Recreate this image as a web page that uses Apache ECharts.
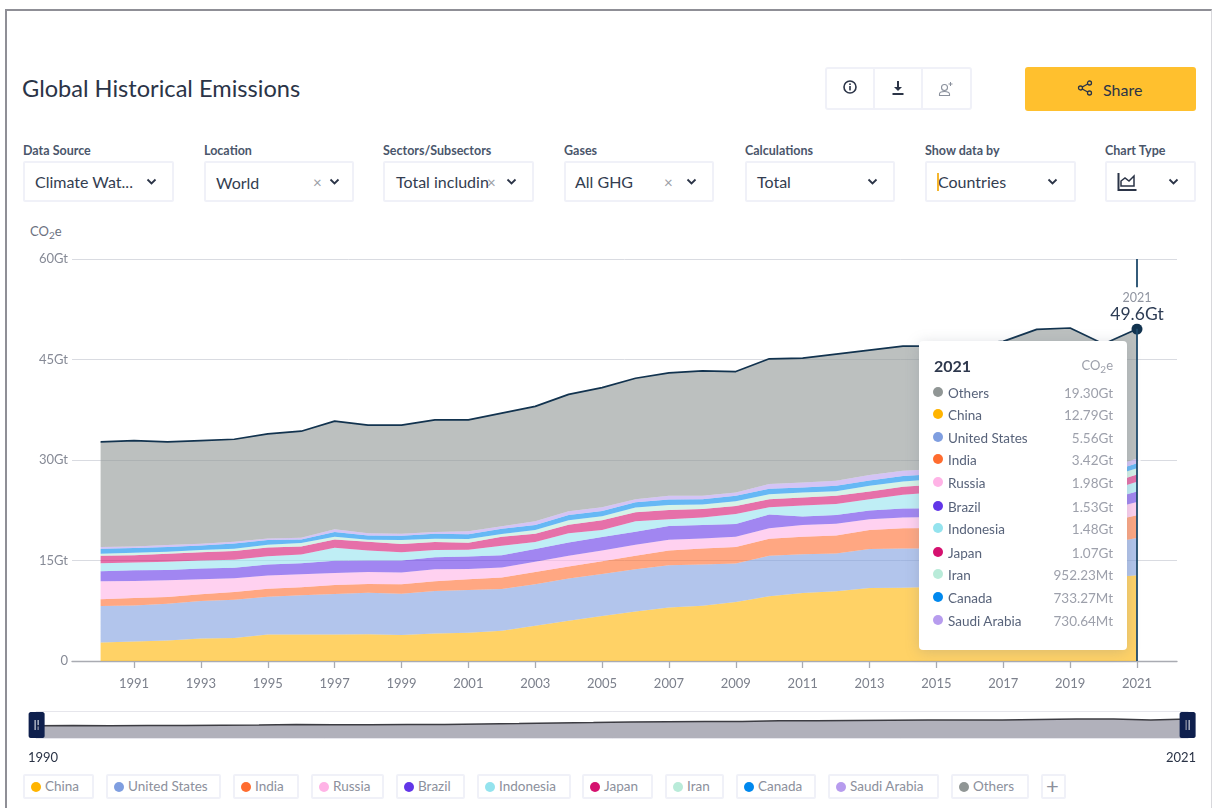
<!DOCTYPE html>
<html><head><meta charset="utf-8">
<script src="https://cdn.jsdelivr.net/npm/echarts@6/dist/echarts.min.js"></script>
<style>
html,body{margin:0;padding:0;width:1212px;height:808px;overflow:hidden;background:#fff;font-family:Lato,"Open Sans",sans-serif;color:#2e384d}
.abs{position:absolute;white-space:nowrap}
#frame{position:absolute;left:5px;top:9px;width:1204px;height:900px;border:2px solid #8f8f96;border-right:1px solid #d8d8dc}
#main{position:absolute;left:0;top:0;width:1212px;height:808px}
.lbl{font-size:12.5px;font-weight:700;color:#4a566b;top:143px}
.box{position:absolute;top:161px;height:37px;border:2px solid #f0f1f8;border-radius:2px;background:#fff}
.val{font-size:16px;color:#333d50;top:172px}
.x{font-size:15px;color:#9a9da6;top:173px}
.chip{position:absolute;top:774px;height:21px;border:2px solid #f0f1f8;border-radius:2px;font-size:13.5px;color:#8c909c;line-height:21px}
.chip i{position:absolute;left:6px;top:5.5px;width:10px;height:10px;border-radius:50%}
.chip span{position:absolute;left:20px;top:0;white-space:nowrap}
.tt{position:relative;width:208px;height:309px;font-family:Lato,sans-serif}
.tt .r{position:absolute;left:14px;right:14px;height:20px;line-height:20px;font-size:13.5px}
.tt .r i{position:absolute;left:0;top:4px;width:10px;height:10px;border-radius:50%}
.tt .r b{position:absolute;left:15px;font-weight:400;color:#58637a}
.tt .r em{position:absolute;right:0;font-style:normal;color:#9da0ab}
</style></head><body>
<div id="frame"></div>
<div class="abs" style="left:22px;top:74px;font-size:23.6px;color:#2b3447">Global Historical Emissions</div>

<div class="abs" style="left:825px;top:67px;width:143px;height:39px;border:2px solid #f0f1f8;border-radius:3px"></div>
<div class="abs" style="left:873px;top:67px;width:2px;height:43px;background:#f0f1f8"></div>
<div class="abs" style="left:921px;top:67px;width:2px;height:43px;background:#f0f1f8"></div>
<svg class="abs" style="left:842px;top:79px" width="16" height="16" viewBox="0 0 16 16"><circle cx="8" cy="8" r="6" fill="none" stroke="#2b3447" stroke-width="1.6"/><rect x="7.2" y="7" width="1.6" height="4.4" fill="#2b3447"/><rect x="7.2" y="4.4" width="1.6" height="1.6" fill="#2b3447"/></svg>
<svg class="abs" style="left:890px;top:80px" width="16" height="16" viewBox="0 0 16 16"><path d="M7 1h2v6h3L8 11 4 7h3z" fill="#2b3447"/><rect x="2.5" y="13" width="11" height="2" fill="#2b3447"/></svg>
<svg class="abs" style="left:938px;top:81px" width="16" height="16" viewBox="0 0 16 16"><circle cx="6.5" cy="6.5" r="3" fill="none" stroke="#8a909c" stroke-width="1.1"/><path d="M1.5 14.5v-1.5c0-1.6 2-2.5 5-2.5s5 .9 5 2.500v1.500z" fill="none" stroke="#8a909c" stroke-width="1.1"/><path d="M12.500 1v4M10.500 3h4" stroke="#8a909c" stroke-width="1"/></svg>
<div class="abs" style="left:1025px;top:67px;width:171px;height:44px;background:#ffc02e;border-radius:3px"></div>
<svg class="abs" style="left:1077px;top:80px" width="16" height="16" viewBox="0 0 16 16"><path d="M12.500 3L3.500 8l9 5" fill="none" stroke="#2b3447" stroke-width="1.300"/><circle cx="12.500" cy="3" r="2" fill="#ffc02e" stroke="#2b3447" stroke-width="1.300"/><circle cx="3.500" cy="8" r="2" fill="#ffc02e" stroke="#2b3447" stroke-width="1.300"/><circle cx="12.500" cy="13" r="2" fill="#ffc02e" stroke="#2b3447" stroke-width="1.300"/></svg>
<div class="abs" style="left:1103px;top:80px;font-size:16px;color:#2b3447">Share</div>

<div id="controls"></div>

<svg class="abs" style="left:1117px;top:172px" width="20" height="20" viewBox="0 0 20 20"><path d="M1.500 1v17h18" fill="none" stroke="#2b3447" stroke-width="2"/><path d="M4 14V9l4-3 4 3 5-5v10z" fill="none" stroke="#2b3447" stroke-width="1.500"/></svg>
<div class="abs" style="left:937px;top:173px;width:1.500px;height:18px;background:#f5b62e"></div>

<div class="abs" style="left:30px;top:223px;font-size:13px;color:#6b7180">CO<sub style="font-size:10px;vertical-align:-3px;line-height:0">2</sub>e</div>

<div id="legendBar"></div>
<div id="main"></div>

<script>
const YEARS = ["1990","1991","1992","1993","1994","1995","1996","1997","1998","1999","2000","2001","2002","2003","2004","2005","2006","2007","2008","2009","2010","2011","2012","2013","2014","2015","2016","2017","2018","2019","2020","2021"];
const China = [2.75,2.9,3.05,3.35,3.45,3.95,3.95,3.95,4.0,3.88,4.1,4.2,4.5,5.27,6.0,6.7,7.4,8.0,8.25,8.8,9.65,10.15,10.4,10.9,10.95,11.1,11.1,11.35,11.75,12.15,12.4,12.79];
const UnitedStates = [5.45,5.4,5.5,5.6,5.7,5.65,5.85,6.05,6.2,6.17,6.35,6.4,6.25,6.18,6.3,6.3,6.3,6.3,6.15,5.75,6.05,5.8,5.65,5.8,5.85,5.7,5.55,5.5,5.7,5.55,5.05,5.56];
const India = [1.0,1.1,1.0,1.0,1.15,1.2,1.2,1.35,1.3,1.4,1.45,1.6,1.7,1.85,1.8,1.9,2.0,2.2,2.4,2.45,2.55,2.6,2.7,2.85,3.0,3.05,3.1,3.2,3.35,3.35,3.2,3.42];
const Russia = [2.7,2.55,2.5,2.25,2.05,1.95,1.95,1.8,1.8,1.75,1.8,1.55,1.5,1.5,1.6,1.6,1.65,1.6,1.5,1.55,1.55,1.75,1.75,1.6,1.6,1.65,1.7,1.75,1.85,1.85,1.8,1.98];
const Brazil = [1.5,1.6,1.55,1.6,1.55,1.65,1.65,1.8,1.7,1.8,1.8,1.85,1.85,1.9,2.0,2.0,1.95,2.05,2.0,1.9,2.05,1.25,1.3,1.3,1.35,1.3,1.25,1.3,1.3,1.35,1.45,1.53];
const Indonesia = [1.2,1.15,1.2,1.2,1.2,1.25,1.3,1.95,1.5,1.25,1.05,1.0,1.4,1.05,1.35,1.05,1.55,1.0,1.1,1.5,1.1,1.65,1.65,1.7,2.05,2.4,1.6,1.5,1.9,2.2,1.3,1.48];
const Japan = [1.1,1.1,1.2,1.25,1.3,1.3,1.2,1.25,1.3,1.2,1.2,1.05,1.35,1.25,1.3,1.45,1.35,1.4,1.3,1.2,1.2,1.2,1.2,1.15,1.2,1.15,1.15,1.15,1.1,1.1,1.05,1.07];
const Iran = [0.3,0.35,0.3,0.3,0.35,0.4,0.5,0.4,0.3,0.6,0.5,0.55,0.4,0.55,0.65,0.6,0.7,0.75,0.65,0.7,0.75,0.75,0.7,0.85,0.8,0.8,0.85,0.9,0.95,0.95,0.95,0.95];
const Canada = [0.75,0.7,0.7,0.7,0.8,0.7,0.55,0.7,0.65,0.65,0.75,0.7,0.8,0.75,0.8,0.8,0.8,0.8,0.8,0.8,0.8,0.75,0.8,0.8,0.8,0.75,0.72,0.74,0.77,0.76,0.7,0.73];
const SaudiArabia = [0.25,0.25,0.3,0.25,0.25,0.25,0.25,0.4,0.3,0.3,0.25,0.45,0.35,0.55,0.55,0.55,0.45,0.55,0.5,0.5,0.7,0.75,0.75,0.8,0.8,0.75,0.75,0.72,0.7,0.72,0.7,0.73];
const Others = [15.7,15.8,15.4,15.4,15.3,15.6,15.9,16.15,16.15,16.2,16.75,16.65,16.9,17.15,17.45,17.85,18.05,18.35,18.65,18.05,18.7,18.55,18.9,18.65,18.6,18.35,19.53,19.59,20.13,19.72,18.7,19.3];
const TOTAL = [32.7,32.9,32.7,32.9,33.1,33.9,34.3,35.8,35.2,35.2,36.0,36.0,37.0,38.0,39.8,40.8,42.2,43.0,43.3,43.2,45.1,45.2,45.8,46.4,47.0,47.0,47.3,48.4,49.5,49.8,47.3,49.6];

const SERIES_NAMES = ["China","United States","India","Russia","Brazil","Indonesia","Japan","Iran","Canada","Saudi Arabia","Others"];
const SERIES_VALUES = [China,UnitedStates,India,Russia,Brazil,Indonesia,Japan,Iran,Canada,SaudiArabia,Others];
const SERIES_COLORS = ["#ffb400","#7f9ee0","#ff6c2f","#ffb3e6","#6236e8","#94e3ee","#d5116f","#b9ebd9","#0088ee","#b79cee","#909695"];
const TOOLTIP_ORDER = ["Others","China","United States","India","Russia","Brazil","Indonesia","Japan","Iran","Canada","Saudi Arabia"];
const TOOLTIP_VALUES = ["19.30Gt","12.79Gt","5.56Gt","3.42Gt","1.98Gt","1.53Gt","1.48Gt","1.07Gt","952.23Mt","733.27Mt","730.64Mt"];
const TOOLTIP_ROW_TOPS = [42,64,87,109,132,156,178,202,224,247,270];
const LATEST_YEAR = "2021", LATEST_TOTAL = "49.6Gt";

/* page controls */
const CONTROLS = [
 {l:"Data Source",x:23,w:147,t:"Climate Wat...",tx:35,c:151},
 {l:"Location",x:204,w:146,t:"World",tx:216,c:334,del:317,low:1},
 {l:"Sectors/Subsectors",x:383,w:147,t:"Total includin",tx:396,c:511,del:491},
 {l:"Gases",x:564,w:146,t:"All GHG",tx:575,c:691,del:668},
 {l:"Calculations",x:745,w:146,t:"Total",tx:757,c:872},
 {l:"Show data by",x:925,w:147,t:"Countries",tx:938,c:1052},
 {l:"Chart Type",x:1105,w:87,t:"",tx:0,c:1173}];
let h="";
for(const c of CONTROLS){
 h+=`<div class="abs lbl" style="left:${c.x}px">${c.l}</div><div class="box" style="left:${c.x}px;width:${c.w}px"></div>`;
 if(c.t)h+=`<div class="abs val" style="left:${c.tx}px;top:${c.low?173:172}px">${c.t}</div>`;
 if(c.del)h+=`<div class="abs x" style="left:${c.del-4}px">×</div>`;
 h+=`<svg class="abs" style="left:${c.c-5}px;top:178px" width="11" height="8" viewBox="0 0 11 8"><path d="M1.500 1.500l4 4 4-4" fill="none" stroke="#2b3447" stroke-width="1.800"/></svg>`;
}
document.getElementById("controls").innerHTML=h;

const CHIP_X=[[23,94],[106,221],[233,299],[311,384],[396,465],[477,571],[582,653],[665,724],[736,816],[828,939],[951,1029]];
let lg="";
SERIES_NAMES.forEach((n,i)=>{const [a,b]=CHIP_X[i];
 lg+=`<div class="chip" style="left:${a}px;width:${b-a-4}px"><i style="background:${SERIES_COLORS[i]}"></i><span>${n}</span></div>`;});
lg+=`<div class="chip" style="left:1041px;width:21px"><span style="left:3px;top:-1px;font-size:22px;color:#8c909c">+</span></div>`;
document.getElementById("legendBar").innerHTML=lg;

function tooltipHtml(){
 let s=`<div class="tt"><div style="position:absolute;left:15px;top:14px;font-size:16px;font-weight:700;color:#2e384d">${LATEST_YEAR}</div>`+
  `<div style="position:absolute;right:14px;top:14px;font-size:13px;color:#9da0ab">CO<sub style="font-size:10px;vertical-align:-3px;line-height:0">2</sub>e</div>`;
 TOOLTIP_ORDER.forEach((n,i)=>{const col=SERIES_COLORS[SERIES_NAMES.indexOf(n)];
  s+=`<div class="r" style="top:${TOOLTIP_ROW_TOPS[i]}px"><i style="background:${col}"></i><b>${n}</b><em>${TOOLTIP_VALUES[i]}</em></div>`;});
 return s+"</div>";
}

const ARC='path://M0,0C3,0 4,2 4,4C4,6 3,8 0,8L0,7C2,7 3,5.500 3,4C3,2.500 2,1 0,1Z';
const DARK="#12334f";
const stacked=SERIES_NAMES.map((name,i)=>{
 const isTop=name==="Others";
 const data=SERIES_VALUES[i].map((v,k)=>{
  if(k<YEARS.length-1) return v;
  if(isTop) return {value:v,symbol:'circle',symbolSize:11,itemStyle:{color:DARK},
   label:{show:true,position:'top',distance:0,formatter:`{y|${LATEST_YEAR}}\n{v|${LATEST_TOTAL}}`,backgroundColor:'#fff',padding:[2,0,0,0],
    rich:{y:{fontFamily:'Lato',fontSize:12.500,color:'#8f94a0',lineHeight:14,align:'center'},v:{fontFamily:'Lato',fontSize:17.500,color:'#2e3d55',lineHeight:19,align:'center'}}}};
  return {value:v,symbol:ARC,symbolSize:[4,8],symbolOffset:[2,0],itemStyle:{color:'rgba(255,255,255,.95)'}};
 });
 return {name,type:'line',stack:'total',data,symbol:'none',showSymbol:true,xAxisIndex:1,yAxisIndex:1,
  lineStyle:isTop?{color:DARK,width:1.700}:{width:0},
  areaStyle:{color:SERIES_COLORS[i],opacity:0.6},itemStyle:{color:SERIES_COLORS[i]},
  emphasis:{disabled:true},animation:false,z:3};
});
const pointer={type:'line',name:'pointer',data:[],xAxisIndex:1,yAxisIndex:1,silent:true,animation:false,z:2,
 markLine:{silent:true,animation:false,symbol:'none',label:{show:false},lineStyle:{color:'#1f4a6b',width:1.800,type:'solid'},
  data:[[{coord:[LATEST_YEAR,0]},{coord:[LATEST_YEAR,49.6]}],[{coord:[LATEST_YEAR,55.800]},{coord:[LATEST_YEAR,60]}]]}};
const overview={type:'line',name:'overview',xAxisIndex:2,yAxisIndex:2,data:TOTAL,symbol:'none',
 lineStyle:{color:'#3c3c42',width:1.500},areaStyle:{color:'#b1b1bb',opacity:1},silent:true,animation:false,tooltip:{show:false}};

const oddYear=(i,v)=>Number(v)%2===1;
const chart=echarts.init(document.getElementById('main'),null,{renderer:'canvas'});
chart.setOption({
 animation:false,backgroundColor:'transparent',
 grid:[{left:72,right:35,top:259,bottom:147},{left:100.6,width:1036.4,top:259,bottom:147},{left:36,width:1152,top:715,height:23.500}],
 tooltip:{trigger:'item',alwaysShowContent:true,transitionDuration:0,position:[919,341],padding:0,borderWidth:0,backgroundColor:'#fff',
  extraCssText:'border-radius:4px;box-shadow:0 2px 14px rgba(120,125,140,.28);',formatter:tooltipHtml},
 xAxis:[
  {type:'value',gridIndex:0,min:0,max:1,splitLine:{show:false},axisTick:{show:false},axisLabel:{show:false},axisLine:{show:true,lineStyle:{color:'#a9abb2',width:1.300}}},
  {type:'category',gridIndex:1,data:YEARS,boundaryGap:false,splitLine:{show:false},axisLine:{show:false},
   axisTick:{show:true,length:7,interval:oddYear,lineStyle:{color:'#a9abb2',width:1.300}},
   axisLabel:{interval:oddYear,margin:16,fontFamily:'Lato',fontSize:13,color:'#7c808c'}},
  {type:'category',gridIndex:2,data:YEARS,boundaryGap:false,show:false}],
 yAxis:[
  {type:'value',min:0,max:60,interval:15,gridIndex:0,axisLine:{show:false},axisTick:{show:false},
   splitLine:{lineStyle:{color:'#d9dbe1',width:1}},
   axisLabel:{margin:4,padding:[2,0,0,0],fontFamily:'Lato',fontSize:13,color:'#868a96',formatter:v=>v===0?'0':v+'Gt'}},
  {type:'value',min:0,max:60,gridIndex:1,show:false},
  {type:'value',min:0,max:60,gridIndex:2,show:false}],
 dataZoom:[{type:'slider',xAxisIndex:2,filterMode:'none',start:0,end:100,left:35,width:1153,top:711,height:28,
  showDataShadow:false,showDetail:false,brushSelect:false,moveHandleSize:0,realtime:false,
  fillerColor:'rgba(0,0,0,0)',borderColor:'#e6e6ec',backgroundColor:'rgba(0,0,0,0)',borderRadius:0,
  handleIcon:'path://M2,0H14C15,0 16,1 16,2V24C16,25 15,26 14,26H2C1,26 0,25 0,24V2C0,1 1,0 2,0ZM6,8V18H7V8ZM9,8V18H10V8Z',
  handleSize:26,handleStyle:{color:'#0e1f4d',borderWidth:0}}],
 graphic:[
  {type:'text',left:28,top:751,style:{text:'1990',fontFamily:'Lato',fontSize:13,fill:'#2a3346'}},
  {type:'text',left:1166,top:751,style:{text:'2021',fontFamily:'Lato',fontSize:13,fill:'#2a3346'}}],
 series:[overview,pointer,...stacked]
});
chart.dispatchAction({type:'showTip',seriesIndex:2+SERIES_NAMES.indexOf("Others"),dataIndex:YEARS.length-1});
</script>
</body></html>
